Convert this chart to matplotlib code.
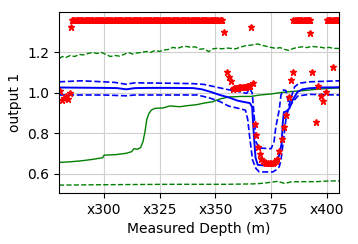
import numpy as np
import matplotlib
matplotlib.use("Agg")
import matplotlib.pyplot as plt
from matplotlib.ticker import FuncFormatter

# --- blue: prediction mean and +/- band ---
mean_d = [280, 290, 300, 306, 310, 314, 320, 330, 340, 344, 348, 352, 356, 360, 363,
          365.5, 366.5, 367.2, 368, 369, 372, 375.5, 377, 378.5, 379.7, 380.2, 380.7,
          382, 383.2, 384.6, 386.8, 389, 392, 398, 405.5]
mean_v = [1.027, 1.026, 1.025, 1.024, 1.018, 1.024, 1.025, 1.025, 1.024, 1.018, 1.005,
          0.99, 0.978, 0.962, 0.955, 0.95, 0.93, 0.80, 0.68, 0.645, 0.642, 0.645, 0.655,
          0.69, 0.75, 0.85, 0.905, 0.91, 0.925, 0.965, 1.005, 1.018, 1.023, 1.027, 1.028]

upper_d = [280, 290, 300, 305, 310, 314, 330, 340, 345, 350, 355, 360, 364, 365.5, 366.5,
           367.3, 368.2, 369.5, 375, 376.3, 377.1, 378.6, 379.4, 380.5, 381.6, 382.4, 383,
           384, 385.5, 387.5, 392, 405.5]
upper_v = [1.055, 1.06, 1.055, 1.052, 1.043, 1.05, 1.048, 1.046, 1.042, 1.03, 1.018, 1.008,
           0.998, 1.02, 1.0, 0.9, 0.76, 0.728, 0.725, 0.76, 0.833, 0.916, 0.99, 1.015, 1.012,
           0.97, 0.94, 0.98, 1.03, 1.048, 1.055, 1.06]

lower_d = [280, 300, 310, 314, 342, 347.5, 352, 356, 360, 363.5, 364.5, 365.5, 366.7, 368.2,
           369.7, 375.7, 377.1, 378.6, 379.4, 380.9, 381.7, 383, 385, 387, 392, 405.5]
lower_v = [0.99, 0.99, 0.986, 0.99, 0.99, 0.975, 0.958, 0.935, 0.925, 0.915, 0.87, 0.77,
           0.668, 0.627, 0.61, 0.61, 0.619, 0.635, 0.668, 0.80, 0.88, 0.93, 0.96, 0.985,
           0.993, 0.99]

# --- green: reference curve and bounds ---
green_d = [280, 285, 290, 295, 299.5, 300.2, 305, 310, 312.5, 313.5, 315, 316.5, 317.6,
           318.5, 319.3, 320.3, 321.4, 323, 326.6, 329.6, 334, 338, 341.5, 345, 348.9, 352,
           356, 362, 366, 370, 375, 380, 385, 390, 395, 400, 405.5]
green_v = [0.657, 0.660, 0.665, 0.672, 0.68, 0.693, 0.695, 0.702, 0.71, 0.725, 0.722, 0.73,
           0.76, 0.81, 0.87, 0.90, 0.916, 0.924, 0.926, 0.936, 0.932, 0.938, 0.942, 0.95,
           0.957, 0.97, 0.98, 0.983, 0.983, 0.99, 0.995, 1.003, 1.008, 1.012, 1.018, 1.022,
           1.025]

gup_d = [280, 281.5, 283, 285, 287, 289, 291, 293, 295, 297, 299, 301, 303, 305, 307, 309,
         311, 313, 315, 317, 319, 321, 323, 325, 327, 329, 331, 333, 335, 337, 339, 341,
         343, 345, 347, 349, 351, 353, 355, 357, 359, 361, 363, 365, 367, 369, 371, 373,
         375, 377, 379, 381, 383, 385, 387, 389, 391, 393, 395, 397, 399, 401, 403, 405.5]
gup_v = [1.17, 1.18, 1.175, 1.185, 1.18, 1.19, 1.188, 1.195, 1.2, 1.195, 1.2, 1.19, 1.18,
         1.185, 1.182, 1.19, 1.2, 1.192, 1.198, 1.2, 1.205, 1.2, 1.21, 1.205, 1.212, 1.215,
         1.225, 1.22, 1.228, 1.23, 1.225, 1.228, 1.216, 1.218, 1.204, 1.218, 1.221, 1.218,
         1.222, 1.22, 1.218, 1.225, 1.232, 1.235, 1.238, 1.242, 1.235, 1.23, 1.225, 1.22,
         1.224, 1.215, 1.21, 1.22, 1.225, 1.228, 1.224, 1.23, 1.228, 1.226, 1.222, 1.225,
         1.22, 1.22]

glow_d = [280, 300, 330, 355, 367, 370, 375, 378, 381, 384, 390, 395, 400, 405.5]
glow_v = [0.545, 0.547, 0.549, 0.549, 0.551, 0.553, 0.559, 0.564, 0.553, 0.561, 0.562,
          0.562, 0.565, 0.566]

# --- red stars: measurements ---
sat_value = 1.36
sat_ranges = [(285.9, 353.0), (385.0, 392.5), (400.0, 405.5)]
pts_d = [280.2, 281.2, 282.2, 283.0, 283.8, 284.7, 285.4, 353.8, 355.0, 355.9, 356.8,
         357.7, 358.2, 358.7, 359.2, 359.7, 360.2, 360.7, 361.2, 361.7, 362.2, 362.7,
         363.2, 363.7, 364.2, 364.7, 365.2, 365.7, 365.9, 367.0,
         367.7, 368.3, 369.2, 369.9, 370.6, 371.5, 372.2, 372.9, 373.6, 374.3, 375.0,
         375.7, 376.4, 377.1, 377.8, 378.7, 379.7, 380.6, 381.7, 382.8, 383.9, 384.6,
         392.6, 393.5, 394.9, 395.8, 397.3, 398.4, 399.5, 402.8]
pts_v = [1.01, 0.965, 0.975, 0.985, 0.97, 0.998, 1.327, 1.30, 1.104, 1.08, 1.06,
         1.022, 1.023, 1.024, 1.025, 1.025, 1.026, 1.027, 1.028, 1.028, 1.029, 1.03,
         1.03, 1.031, 1.032, 1.033, 1.034, 1.035, 1.325, 1.05,
         0.845, 0.792, 0.735, 0.697, 0.675, 0.665, 0.658, 0.655, 0.652, 0.652, 0.655,
         0.655, 0.66, 0.665, 0.672, 0.713, 0.771, 0.83, 0.89, 0.979, 1.066, 1.105,
         1.294, 1.105, 0.858, 1.036, 0.985, 0.962, 1.006, 1.13]

xticks = [300, 325, 350, 375, 400]
yticks = [0.6, 0.8, 1.0, 1.2]

sat_d = np.concatenate([np.arange(a, b + 0.01, 0.5) for a, b in sat_ranges])

plt.rcParams['font.size'] = 10
fig = plt.figure(figsize=(3.58, 2.44), dpi=100)
ax = fig.add_axes([0.165, 0.209, 0.782, 0.742])

ax.plot(green_d, green_v, color='green', lw=1.0)
ax.plot(gup_d, gup_v, color='green', lw=1.0, ls='--')
ax.plot(glow_d, glow_v, color='green', lw=1.0, ls='--')

ax.plot(mean_d, mean_v, color='blue', lw=1.4)
ax.plot(upper_d, upper_v, color='blue', lw=1.2, ls='--')
ax.plot(lower_d, lower_v, color='blue', lw=1.2, ls='--')

ax.plot(sat_d, np.full(len(sat_d), sat_value), '*', color='red', ms=5, ls='none')
ax.plot(pts_d, pts_v, '*', color='red', ms=5, ls='none')

ax.set_xlim(280, 405.4)
ax.set_ylim(0.506, 1.40)
ax.set_xticks(xticks)
ax.set_yticks(yticks)
ax.xaxis.set_major_formatter(FuncFormatter(lambda v, p: f"x{int(v)}"))
ax.grid(True, color='#d0d0d0', lw=0.8)
ax.set_axisbelow(True)
ax.set_xlabel("Measured Depth (m)")
ax.set_ylabel("output 1")

fig.savefig("out.png", dpi=100)
